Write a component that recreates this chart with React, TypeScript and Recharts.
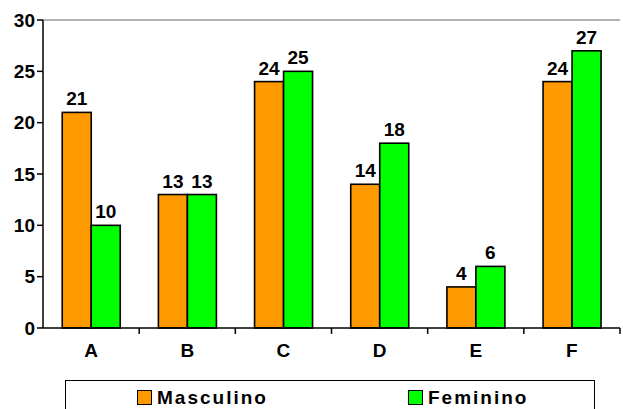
import { BarChart, Bar, XAxis, YAxis, LabelList, ReferenceLine } from 'recharts'

const categories = ['A', 'B', 'C', 'D', 'E', 'F']
const masculino = [21, 13, 24, 14, 4, 24]
const feminino = [10, 13, 25, 18, 6, 27]
const yTicks = [0, 5, 10, 15, 20, 25, 30]

const data = categories.map((c, i) => ({ name: c, masculino: masculino[i], feminino: feminino[i] }))

const FONT = '"Liberation Sans", Arial, sans-serif'
const ORANGE = '#ff9900'
const GREEN = '#00ff00'

const W = 623
const H = 409
const M = { top: 20, right: 3, left: 0, bottom: 51 }
const Y_W = 43
const BAND = (W - M.left - M.right - Y_W) / categories.length

const XTick = (props: any) => {
    const { x, y, payload } = props
    return (
        <g>
            <line x1={x + BAND / 2} y1={y - 8} x2={x + BAND / 2} y2={y - 2} stroke="#000" strokeWidth={1.5} />
            <text x={x} y={y + 21} textAnchor="middle" fontFamily={FONT} fontWeight="bold" fontSize={19} fill="#000">
                {payload.value}
            </text>
        </g>
    )
}

const BarShape = (props: any) => {
    const { x, y, width, height, fill } = props
    if (!height) return null
    return <rect x={x} y={y} width={width} height={height} fill={fill} stroke="#000" strokeWidth={1.6} />
}

const LegendItem = ({ color, label, left }: { color: string; label: string; left: number }) => (
    <div style={{ position: 'absolute', left, top: 8.5, display: 'flex', alignItems: 'center' }}>
        <div style={{ width: 13, height: 13, background: color, border: '1px solid #000' }} />
        <span style={{ marginLeft: 5, fontFamily: FONT, fontWeight: 'bold', fontSize: 19, letterSpacing: 2, lineHeight: '16px' }}>
            {label}
        </span>
    </div>
)

export default function App() {
    return (
        <div style={{ position: 'absolute', left: 0, top: 0, width: W, height: H, overflow: 'hidden', background: '#fff' }}>
            <BarChart width={W} height={H} data={data} margin={M} barCategoryGap="20%" barGap={0}>
                <ReferenceLine y={30} stroke="#999" strokeWidth={1.5} />
                <YAxis
                    width={Y_W}
                    domain={[0, 30]}
                    ticks={yTicks}
                    interval={0}
                    axisLine={{ stroke: '#000', strokeWidth: 1.5 }}
                    tickLine={{ stroke: '#000', strokeWidth: 1.5 }}
                    tickSize={6}
                    tickMargin={2}
                    tick={{ fontFamily: FONT, fontWeight: 'bold', fontSize: 19, fill: '#000' }}
                />
                <XAxis
                    dataKey="name"
                    height={30}
                    axisLine={{ stroke: '#000', strokeWidth: 1.5 }}
                    tickLine={false}
                    tick={<XTick />}
                    interval={0}
                />
                <Bar dataKey="masculino" fill={ORANGE} shape={<BarShape />} isAnimationActive={false}>
                    <LabelList dataKey="masculino" position="top" offset={7} fill="#000" fontFamily={FONT} fontWeight="bold" fontSize={19} />
                </Bar>
                <Bar dataKey="feminino" fill={GREEN} shape={<BarShape />} isAnimationActive={false}>
                    <LabelList dataKey="feminino" position="top" offset={7} fill="#000" fontFamily={FONT} fontWeight="bold" fontSize={19} />
                </Bar>
            </BarChart>
            <div style={{ position: 'absolute', left: 65, top: 380, width: 530, height: 36, border: '1.5px solid #000', boxSizing: 'border-box' }}>
                <LegendItem color={ORANGE} label="Masculino" left={71} />
                <LegendItem color={GREEN} label="Feminino" left={342} />
            </div>
        </div>
    )
}
